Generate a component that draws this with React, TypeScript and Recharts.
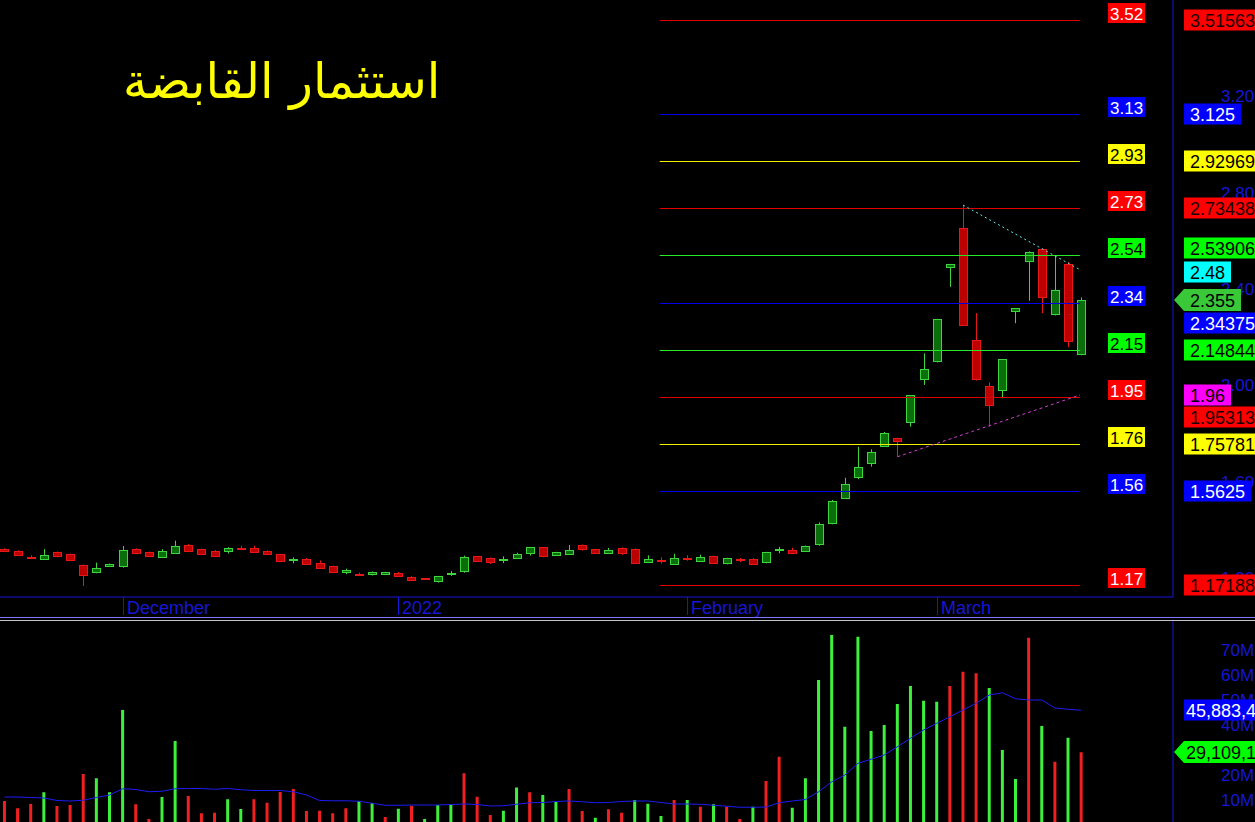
import React from "react";
import {
  ComposedChart,
  Bar,
  Line,
  XAxis,
  YAxis,
  ReferenceLine,
  Cell,
} from "recharts";

// daily candles, Nov 2021 -> Mar 2022
const opens = [
  1.322, 1.314, 1.29, 1.281, 1.309, 1.3, 1.255, 1.225, 1.252, 1.248,
  1.321, 1.309, 1.289, 1.305, 1.339, 1.321, 1.315, 1.313, 1.327, 1.327,
  1.314, 1.299, 1.275, 1.282, 1.264, 1.25, 1.228, 1.219, 1.216, 1.219,
  1.224, 1.207, 1.2, 1.188, 1.219, 1.231, 1.291, 1.284, 1.277, 1.285,
  1.302, 1.328, 1.298, 1.3, 1.338, 1.32, 1.307, 1.326, 1.322, 1.265,
  1.274, 1.26, 1.286, 1.274, 1.292, 1.262, 1.278, 1.281, 1.265, 1.318,
  1.318, 1.312, 1.341, 1.428, 1.534, 1.617, 1.677, 1.746, 1.781, 1.847,
  2.025, 2.098, 2.49, 2.652, 2.188, 1.998, 1.981, 2.307, 2.515, 2.565,
  2.295, 2.504, 2.129,
];
const highs = [
  1.324, 1.316, 1.295, 1.321, 1.311, 1.302, 1.257, 1.265, 1.261, 1.334,
  1.324, 1.311, 1.321, 1.356, 1.341, 1.323, 1.317, 1.329, 1.335, 1.335,
  1.316, 1.301, 1.287, 1.284, 1.274, 1.252, 1.24, 1.223, 1.228, 1.227,
  1.226, 1.209, 1.201, 1.21, 1.23, 1.294, 1.293, 1.286, 1.291, 1.306,
  1.33, 1.33, 1.31, 1.338, 1.34, 1.322, 1.326, 1.328, 1.324, 1.295,
  1.287, 1.302, 1.296, 1.298, 1.294, 1.285, 1.284, 1.284, 1.31, 1.33,
  1.327, 1.336, 1.432, 1.525, 1.617, 1.745, 1.735, 1.807, 1.783, 1.96,
  2.133, 2.276, 2.504, 2.748, 2.3, 2.013, 2.11, 2.321, 2.556, 2.569,
  2.541, 2.512, 2.365,
];
const lows = [
  1.312, 1.295, 1.285, 1.279, 1.287, 1.273, 1.168, 1.221, 1.25, 1.244,
  1.301, 1.292, 1.287, 1.303, 1.312, 1.299, 1.295, 1.303, 1.317, 1.306,
  1.301, 1.267, 1.262, 1.259, 1.242, 1.222, 1.217, 1.211, 1.212, 1.218,
  1.212, 1.193, 1.194, 1.182, 1.21, 1.223, 1.269, 1.259, 1.263, 1.283,
  1.294, 1.287, 1.297, 1.299, 1.315, 1.302, 1.305, 1.297, 1.263, 1.263,
  1.261, 1.258, 1.273, 1.272, 1.263, 1.258, 1.267, 1.26, 1.262, 1.304,
  1.305, 1.31, 1.335, 1.424, 1.53, 1.611, 1.663, 1.745, 1.704, 1.829,
  2.002, 2.095, 2.409, 2.248, 2.02, 1.829, 1.947, 2.258, 2.351, 2.299,
  2.29, 2.158, 2.125,
];
const closes = [
  1.315, 1.297, 1.288, 1.297, 1.291, 1.274, 1.212, 1.242, 1.259, 1.316,
  1.303, 1.294, 1.313, 1.332, 1.315, 1.301, 1.296, 1.327, 1.322, 1.309,
  1.302, 1.272, 1.281, 1.26, 1.244, 1.225, 1.236, 1.216, 1.226, 1.226,
  1.213, 1.196, 1.197, 1.208, 1.223, 1.288, 1.271, 1.269, 1.281, 1.3,
  1.328, 1.289, 1.309, 1.318, 1.323, 1.304, 1.318, 1.307, 1.265, 1.279,
  1.27, 1.286, 1.28, 1.289, 1.265, 1.284, 1.274, 1.262, 1.308, 1.322,
  1.307, 1.334, 1.424, 1.521, 1.59, 1.66, 1.723, 1.801, 1.768, 1.959,
  2.067, 2.274, 2.502, 2.251, 2.025, 1.918, 2.108, 2.32, 2.552, 2.364,
  2.396, 2.186, 2.355,
];

// volume in millions, its moving average, and bar direction (u / d)
const volumes = [
  9.6, 6.7, 8.4, 13.1, 7.6, 8.0, 20.4, 18.7, 13.1, 46,
  8.3, 2.4, 11.2, 33.6, 11.6, 4.7, 4.9, 10.3, 6.4, 10.3,
  8.9, 13.2, 14.4, 5.6, 5.7, 4.7, 6.7, 9.6, 8.8, 3.2,
  6.5, 7.7, 2.4, 8.0, 8.4, 20.7, 11.3, 4.0, 5.7, 15.0,
  13.1, 12.0, 9.2, 14.4, 5.6, 2.9, 6.3, 4.9, 10.0, 8.5,
  3.6, 10.0, 10.0, 7.3, 8.3, 7.3, 2.4, 7.3, 17.6, 27.3,
  6.9, 18.7, 58, 76, 39.3, 75.3, 37.6, 40, 48.4, 55.6,
  49.7, 49.3, 55.6, 61.3, 60.7, 54.8, 30, 18.4, 74.9, 39.6,
  25.3, 34.9, 29.1,
];
const volumeMA = [
  11.2, 11.2, 11.0, 10.8, 9.8, 9.6, 9.9, 11.0, 12.0, 14.5,
  14.2, 13.3, 13.5, 14.5, 14.6, 14.6, 14.3, 14.6, 14.1, 13.8,
  13.8, 13.8, 13.3, 12.0, 9.8, 9.7, 9.7, 9.5, 8.7, 7.9,
  7.9, 8.0, 8.0, 8.0, 8.2, 8.4, 8.2, 7.6, 7.7, 8.3,
  8.9, 9.0, 9.4, 9.6, 9.3, 8.9, 9.0, 9.4, 9.6, 9.6,
  9.0, 8.4, 8.4, 8.3, 7.9, 7.5, 7.1, 7.1, 7.2, 8.9,
  9.6, 10.2, 13.3, 17.3, 20.0, 24.7, 26.3, 28.0, 31.3, 34.7,
  38.0, 40.7, 43.3, 46.0, 48.7, 52.0, 52.9, 50.5, 50.0, 50.0,
  46.8, 46.3, 45.9,
];
const volumeDir = (
  "dddudddu uuddu uddduu dddddddd uudud uuudddu udu uddudd" +
  "uuudud udduddu uuuuuuuuuuu dddu uudud u"
)
  .replace(/ /g, "")
  .split("");

const monthTicks = [9, 30, 52, 71];
const monthLabels = ["December", "2022", "February", "March"];

const priceTicks = [1.2, 1.6, 2.0, 2.4, 2.8, 3.2];
const volumeTicks = [10, 20, 40, 50, 60, 70];

const fibLevels = [
  3.51563, 3.125, 2.92969, 2.73438, 2.53906, 2.34375, 2.14844, 1.95313,
  1.75781, 1.5625, 1.17188,
];
const fibShort = ["3.52", "3.13", "2.93", "2.73", "2.54", "2.34", "2.15", "1.95", "1.76", "1.56", "1.17"];
const fibFull = ["3.51563", "3.125", "2.92969", "2.73438", "2.53906", "2.34375", "2.14844", "1.95313", "1.75781", "1.5625", "1.17188"];
const fibStart = 49.9;
const fibEnd = 81.9;

const lastClose = 2.355;
const lastCloseText = "2.355";
const trendHigh = [
  { x: 73, y: 2.748 },
  { x: 81.9, y: 2.48 },
];
const trendLow = [
  { x: 68, y: 1.704 },
  { x: 81.9, y: 1.96 },
];
const volMAValue = 45.883;
const volMAText = "45,883,4";
const lastVolume = 29.109;
const lastVolumeText = "29,109,1";

const title = "استثمار القابضة";

// ---- styles ----
const FONT = "'Liberation Sans', Arial, sans-serif";
const AXIS_BLUE = "#1616d6";
const fibKinds = ["r", "b", "y", "r", "g", "b", "g", "r", "y", "b", "r"];
const lineColor: Record<string, string> = { r: "#e00000", b: "#0000e8", y: "#f0f000", g: "#28e828" };
const tagBg: Record<string, string> = { r: "#ff0000", b: "#0000ff", y: "#ffff00", g: "#00ff00" };
const shortFg: Record<string, string> = { r: "#ffffff", b: "#ffffff", y: "#000000", g: "#000000" };
const tagFg: Record<string, string> = { r: "#1a0000", b: "#ffffff", y: "#000000", g: "#000000" };
const tagNudge: Record<string, number> = { "2.53906": -7, "2.34375": 20, "1.95313": 20 };

const X_DOMAIN: [number, number] = [-0.343, 88.99];
const PRICE_DOMAIN: [number, number] = [1.1224, 3.5986];
const VOL_DOMAIN: [number, number] = [0, 81.6];

const candles = opens.map((o, i) => ({
  i,
  o,
  h: highs[i],
  l: lows[i],
  c: closes[i],
  range: [lows[i], highs[i]],
}));

const volumeRows = volumes.map((v, i) => ({
  i,
  v,
  ma: volumeMA[i],
  up: volumeDir[i] === "u",
}));

function Candle(props: any) {
  const { x, y, width, height, payload } = props;
  if (!payload || x == null || y == null) return null;
  const { o, h, l, c } = payload;
  const top = Math.min(y, y + height);
  const ppu = Math.abs(height) / (h - l);
  const py = (p: number) => top + (h - p) * ppu;
  const r = Math.round(x + width / 2);
  const up = c >= o;
  const stroke = up ? "#3ed43e" : "#e81818";
  const fill = up ? "#0a6e0a" : "#bc0000";
  const bTop = py(Math.max(o, c));
  const bBot = py(Math.min(o, c));
  return (
    <g>
      <line x1={r + 0.5} x2={r + 0.5} y1={py(h)} y2={py(l)} stroke={stroke} strokeWidth={1} />
      <rect
        x={r - 3.5}
        y={Math.round(bTop) + 0.5}
        width={8}
        height={Math.max(Math.round(bBot - bTop), 1)}
        fill={fill}
        stroke={stroke}
        strokeWidth={1}
      />
    </g>
  );
}

// crisp 1px horizontal line
function CrispLine(props: any) {
  const { x1, x2, y1, stroke } = props;
  if (x1 == null) return null;
  const yy = Math.round(y1) + 0.5;
  return <line x1={x1} x2={x2} y1={yy} y2={yy} stroke={stroke} strokeWidth={1} />;
}

function FibTag(props: any) {
  const { viewBox, text, kind } = props;
  if (!viewBox) return null;
  const left = Math.round(viewBox.x + viewBox.width + 28);
  const base = Math.round(viewBox.y);
  return (
    <g>
      <rect x={left} y={base - 17} width={37} height={20} fill={tagBg[kind]} />
      <text x={left + 2} y={base} fill={shortFg[kind]} fontSize={17} fontFamily={FONT}>
        {text}
      </text>
    </g>
  );
}

function AxisTag(props: any) {
  const { viewBox, text, bg, fg, nudge = 0, arrow = false, pad = 6 } = props;
  if (!viewBox) return null;
  const left = Math.round(viewBox.x + viewBox.width + 11);
  const cy = Math.round(viewBox.y + nudge);
  const digits = (text.match(/[0-9]/g) || []).length;
  const w = digits * 10 + (text.length - digits) * 5 + 12;
  return (
    <g>
      {arrow ? (
        <polygon
          points={`${left - 10},${cy} ${left},${cy - 11} ${left + w},${cy - 11} ${left + w},${cy + 11} ${left},${cy + 11}`}
          fill={bg}
        />
      ) : (
        <rect x={left} y={cy - 10.5} width={w} height={21} fill={bg} />
      )}
      <text x={left + pad} y={cy + 6.5} fill={fg} fontSize={18} fontFamily={FONT}>
        {text}
      </text>
    </g>
  );
}

function MonthTick(props: any) {
  const { x, y, payload, index } = props;
  const xx = Math.round(x);
  return (
    <g>
      <line x1={xx + 0.5} x2={xx + 0.5} y1={y} y2={y + 18} stroke={AXIS_BLUE} />
      <text x={xx + 4} y={y + 17} fill={AXIS_BLUE} fontSize={18} fontFamily={FONT}>
        {monthLabels[index] ?? payload.value}
      </text>
    </g>
  );
}

function RightTick(props: any) {
  const { y, payload, fmt } = props;
  return (
    <text x={1221} y={y + 6} fill={AXIS_BLUE} fontSize={17} fontFamily={FONT}>
      {fmt(payload.value)}
    </text>
  );
}

const layer: React.CSSProperties = { position: "absolute", left: 0, top: 0 };

export default function App() {
  return (
    <div
      style={{
        position: "relative",
        width: 1255,
        height: 822,
        background: "#000",
        overflow: "hidden",
      }}
    >
      <style>{"body{margin:0;background:#000;overflow:hidden}"}</style>

      {/* price panel */}
      <div style={layer}>
        <ComposedChart
          width={1255}
          height={620}
          data={candles}
          margin={{ top: 0, right: 0, bottom: 0, left: 0 }}
        >
          <XAxis
            dataKey="i"
            type="number"
            domain={X_DOMAIN}
            allowDataOverflow
            ticks={monthTicks}
            interval={0}
            height={23}
            axisLine={{ stroke: AXIS_BLUE }}
            tickLine={false}
            tickSize={0}
            tickMargin={0}
            tick={<MonthTick />}
          />
          <YAxis
            orientation="right"
            width={82}
            type="number"
            domain={PRICE_DOMAIN}
            allowDataOverflow
            ticks={priceTicks}
            interval={0}
            axisLine={{ stroke: AXIS_BLUE }}
            tickLine={false}
            tick={<RightTick fmt={(v: number) => v.toFixed(2)} />}
          />

          {fibLevels.map((lv, k) => (
            <ReferenceLine
              key={"fib" + k}
              segment={[
                { x: fibStart, y: lv },
                { x: fibEnd, y: lv },
              ]}
              stroke={lineColor[fibKinds[k]]}
              shape={(p: any) => <CrispLine {...p} stroke={lineColor[fibKinds[k]]} />}
              label={<FibTag text={fibShort[k]} kind={fibKinds[k]} />}
            />
          ))}

          <Bar
            dataKey="range"
            barSize={9}
            isAnimationActive={false}
            shape={(p: any) => <Candle {...p} />}
          />

          <ReferenceLine segment={trendHigh} stroke="#5fe8e8" strokeDasharray="2 3" />
          <ReferenceLine segment={trendLow} stroke="#d040d0" strokeDasharray="3 3" />
        </ComposedChart>
      </div>

      {/* price tags, drawn above the axis text */}
      <div style={layer}>
        <ComposedChart
          width={1255}
          height={620}
          data={candles}
          margin={{ top: 0, right: 82, bottom: 23, left: 0 }}
        >
          <XAxis dataKey="i" type="number" domain={X_DOMAIN} allowDataOverflow hide />
          <YAxis type="number" domain={PRICE_DOMAIN} allowDataOverflow hide />
          {fibLevels.map((lv, k) => (
            <ReferenceLine
              key={"tag" + k}
              y={lv}
              stroke="none"
              label={
                <AxisTag
                  text={fibFull[k]}
                  bg={tagBg[fibKinds[k]]}
                  fg={tagFg[fibKinds[k]]}
                  nudge={tagNudge[fibFull[k]] ?? 0}
                />
              }
            />
          ))}
          <ReferenceLine
            y={trendHigh[1].y}
            stroke="none"
            label={<AxisTag text={trendHigh[1].y.toFixed(2)} bg="#00ffff" fg="#000" nudge={2} />}
          />
          <ReferenceLine
            y={trendLow[1].y}
            stroke="none"
            label={<AxisTag text={trendLow[1].y.toFixed(2)} bg="#ff00ff" fg="#000" />}
          />
          <ReferenceLine
            y={lastClose}
            stroke="none"
            label={<AxisTag text={lastCloseText} bg="#38c838" fg="#000" arrow />}
          />
        </ComposedChart>
      </div>

      <div
        style={{
          position: "absolute",
          left: 123,
          top: 52,
          color: "#ffff00",
          fontFamily: "'DejaVu Sans', sans-serif",
          fontSize: 49,
          lineHeight: "60px",
          direction: "rtl",
          whiteSpace: "nowrap",
        }}
      >
        {title}
      </div>

      <div style={{ position: "absolute", left: 0, top: 617, width: 1255, height: 1, background: "#7a7aff" }} />
      <div style={{ position: "absolute", left: 0, top: 620, width: 1255, height: 1, background: "#c4c4c4" }} />

      {/* volume panel */}
      <div style={{ position: "absolute", left: 0, top: 621, width: 1255, height: 201, overflow: "hidden" }}>
        <div style={layer}>
          <ComposedChart
            width={1255}
            height={204}
            data={volumeRows}
            margin={{ top: 0, right: 0, bottom: 0, left: 0 }}
          >
            <XAxis dataKey="i" type="number" domain={X_DOMAIN} allowDataOverflow hide />
            <YAxis
              orientation="right"
              width={82}
              type="number"
              domain={VOL_DOMAIN}
              allowDataOverflow
              ticks={volumeTicks}
              interval={0}
              axisLine={{ stroke: AXIS_BLUE }}
              tickLine={false}
              tick={<RightTick fmt={(v: number) => v + "M"} />}
            />
            <Bar dataKey="v" barSize={3} isAnimationActive={false}>
              {volumeRows.map((r) => (
                <Cell key={r.i} fill={r.up ? "#3cf03c" : "#f02020"} />
              ))}
            </Bar>
            <Line
              dataKey="ma"
              type="linear"
              stroke="#1c1cf4"
              strokeWidth={1}
              dot={false}
              isAnimationActive={false}
            />
          </ComposedChart>
        </div>
        <div style={layer}>
          <ComposedChart
            width={1255}
            height={204}
            data={volumeRows}
            margin={{ top: 0, right: 82, bottom: 0, left: 0 }}
          >
            <XAxis dataKey="i" type="number" domain={X_DOMAIN} allowDataOverflow hide />
            <YAxis type="number" domain={VOL_DOMAIN} allowDataOverflow hide />
            <ReferenceLine
              y={volMAValue}
              stroke="none"
              label={<AxisTag text={volMAText} bg="#0000ff" fg="#fff" pad={2} />}
            />
            <ReferenceLine
              y={lastVolume}
              stroke="none"
              label={<AxisTag text={lastVolumeText} bg="#00ff00" fg="#000" arrow pad={2} />}
            />
          </ComposedChart>
        </div>
      </div>
    </div>
  );
}
